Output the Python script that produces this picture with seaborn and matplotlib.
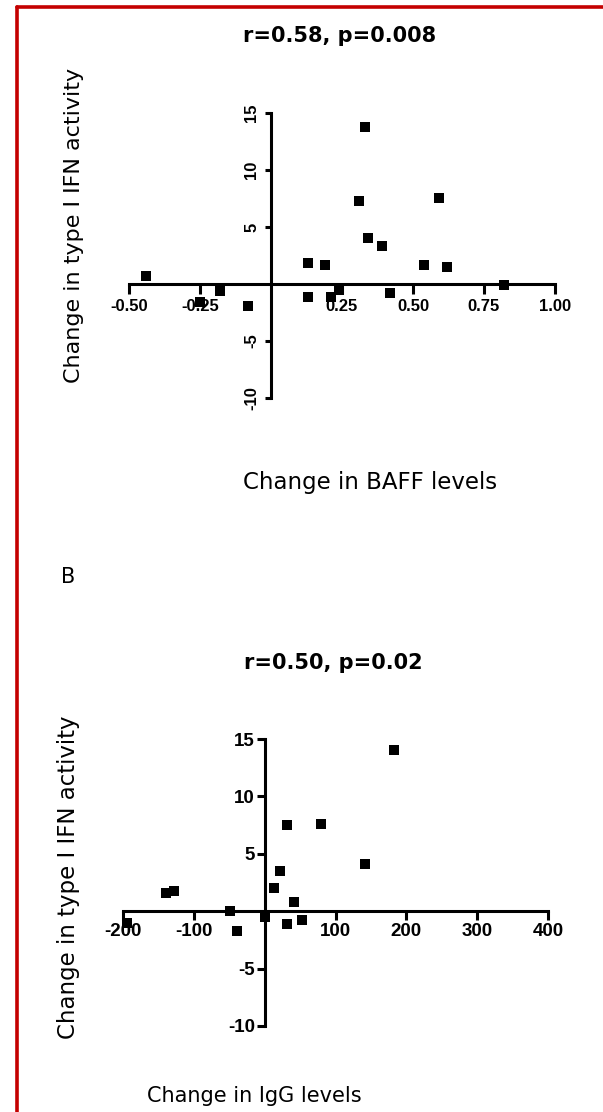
import matplotlib
matplotlib.use("Agg")
import matplotlib.pyplot as plt
import seaborn as sns
import pandas as pd
from matplotlib.lines import Line2D

# panel A: change in BAFF vs change in type I IFN activity
baff_change = [-0.44, -0.25, -0.18, -0.08, 0.13, 0.13, 0.19, 0.21, 0.24, 0.31,
               0.33, 0.34, 0.39, 0.42, 0.54, 0.59, 0.62, 0.82]
ifn_change_a = [0.7, -1.6, -0.6, -1.9, 1.8, -1.1, 1.7, -1.1, -0.5, 7.3,
                13.8, 4.0, 3.3, -0.8, 1.7, 7.5, 1.5, -0.1]

# panel B: change in IgG vs change in type I IFN activity
igg_change = [-194, -139, -128, -49, -39, 1, 13, 22, 31, 31, 41, 52, 80, 142, 182]
ifn_change_b = [-1.0, 1.6, 1.8, 0.0, -1.7, -0.5, 2.0, 3.5, 7.5, -1.1, 0.8, -0.8,
                7.6, 4.1, 14.0]

ticks_a_x = [-0.50, -0.25, 0.25, 0.50, 0.75, 1.00]
ticks_b_x = [-200, -100, 100, 200, 300, 400]
ticks_y = [-10, -5, 5, 10, 15]

sns.set_style("white")
plt.rcParams["font.family"] = ["DejaVu Sans"]
plt.rcParams.update({"text.color": "black", "axes.labelcolor": "black",
                     "xtick.color": "black", "ytick.color": "black"})

W, H = 603, 1112
fig = plt.figure(figsize=(W / 100, H / 100), dpi=100)


def px_axes(left, top, right, bottom):
    return fig.add_axes([left / W, 1 - bottom / H, (right - left) / W, (bottom - top) / H])


def style_axes(ax, xlim, xticks, xfmt, tick_size, rotate_y, xlen, ylen, xpad, ypad):
    ax.set_xlim(*xlim)
    ax.set_ylim(-10, 15)
    for side in ["top", "right"]:
        ax.spines[side].set_visible(False)
    for side in ["left", "bottom"]:
        ax.spines[side].set_position("zero")
        ax.spines[side].set_linewidth(2.2)
        ax.spines[side].set_color("black")
    ax.set_xticks(xticks)
    ax.set_xticklabels([xfmt(v) for v in xticks])
    ax.set_yticks(ticks_y)
    ax.set_yticklabels([str(v) for v in ticks_y])
    ax.tick_params(axis="x", direction="out", length=xlen, width=2.2, pad=xpad,
                   bottom=True, colors="black")
    ax.tick_params(axis="y", direction="out", length=ylen, width=2.2, pad=ypad,
                   left=True, colors="black")
    for lab in ax.get_xticklabels() + ax.get_yticklabels():
        lab.set_fontfamily("Liberation Sans")
        lab.set_fontweight("bold")
        lab.set_fontsize(tick_size)
    if rotate_y:
        for lab in ax.get_yticklabels():
            lab.set_rotation(90)
            lab.set_va("center")
    ax.set_xlabel("")
    ax.set_ylabel("")
    ax.patch.set_alpha(0)


df_a = pd.DataFrame({"baff": baff_change, "ifn": ifn_change_a})
df_b = pd.DataFrame({"igg": igg_change, "ifn": ifn_change_b})

ax1 = px_axes(129, 113, 555, 398)
sns.scatterplot(data=df_a, x="baff", y="ifn", marker="s", color="black", s=48,
                edgecolor="black", linewidth=0, clip_on=False, zorder=3, ax=ax1)
style_axes(ax1, (-0.5, 1.0), ticks_a_x, lambda v: f"{v:.2f}", 12, True, 7, 4.5, 4, 4)

ax2 = px_axes(123, 739, 548, 1026)
sns.scatterplot(data=df_b, x="igg", y="ifn", marker="s", color="black", s=52,
                edgecolor="black", linewidth=0, clip_on=False, zorder=3, ax=ax2)
style_axes(ax2, (-200, 400), ticks_b_x, lambda v: f"{v}", 13.5, False, 6.5, 6, 2, 1)

# texts
fig.text(340 / W, 1 - 36 / H, "r=0.58, p=0.008", ha="center", va="center",
         fontsize=15, fontweight="bold")
fig.text(74 / W, 1 - 225 / H, "Change in type I IFN activity", ha="center", va="center",
         rotation=90, fontsize=16)
fig.text(370 / W, 1 - 482 / H, "Change in BAFF levels", ha="center", va="center", fontsize=16.5)

fig.text(68 / W, 1 - 577 / H, "B", ha="center", va="center", fontsize=15)
fig.text(333 / W, 1 - 663 / H, "r=0.50, p=0.02", ha="center", va="center",
         fontsize=15, fontweight="bold")
fig.text(69 / W, 1 - 877 / H, "Change in type I IFN activity", ha="center", va="center",
         rotation=90, fontsize=16.5)
fig.text(254 / W, 1 - 1096 / H, "Change in IgG levels", ha="center", va="center", fontsize=15)

# red frame (left and top edges visible)
red = "#c40000"
fig.add_artist(Line2D([17 / W, 17 / W], [1 - 7 / H, 0], transform=fig.transFigure,
                      color=red, linewidth=2.6))
fig.add_artist(Line2D([17 / W, 1], [1 - 7 / H, 1 - 7 / H], transform=fig.transFigure,
                      color=red, linewidth=2.6))

fig.savefig("out.png", dpi=100)
